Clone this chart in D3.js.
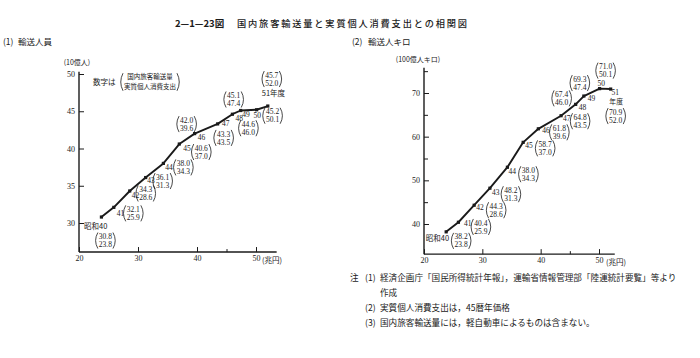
<!DOCTYPE html>
<html><head><meta charset="utf-8">
<script src="https://cdn.jsdelivr.net/npm/d3@7"></script>
<style>
body{margin:0;background:#fff;}
svg{display:block;}
text{fill:#1a1a1a;}
.jp{font-family:"Noto Sans CJK JP","Noto Sans CJK SC",sans-serif;}
.num{font-family:"Liberation Serif","DejaVu Serif",serif;}
</style></head><body>
<svg id="c" width="700" height="358"></svg>
<script>
// ---- data ----
const years = ["40","41","42","43","44","45","46","47","48","49","50","51"];
const consumption = [23.8,25.9,28.6,31.3,34.3,37.0,39.6,43.5,46.0,47.4,50.1,52.0];      // 兆円
const passengers = [30.8,32.1,34.3,36.1,38.0,40.6,42.0,43.3,44.6,45.1,45.2,45.7];       // 10億人
const passengerKm = [38.2,40.4,44.3,48.2,53.0,58.7,61.8,64.8,67.4,69.3,71.0,70.9];      // 100億人キロ
const passengerKmPrinted = ["38.2","40.4","44.3","48.2","38.0","58.7","61.8","64.8","67.4","69.3","71.0","70.9"];
const xTicks = [20,30,40,50];
const yTicksLeft = [30,35,40,45,50];
const yTicksRight = [40,50,60,70];
const yMinorRight = [45,55,65,75];
const notes = [
  "経済企画庁「国民所得統計年報」，運輸省情報管理部「陸運統計要覧」等より",
  "実質個人消費支出は，45暦年価格",
  "国内旅客輸送量には，軽自動車によるものは含まない。"
];

// ---- layout (label offsets relative to each point) ----
const leftOffsets = [
  {yx:6,yy:9,anchor:"end",bx:4,by:23.5},
  {yx:3,yy:6,bx:19.5,by:6},
  {yx:2,yy:4,bx:16,by:2.5},
  {yx:1.5,yy:2.5,bx:17,by:3.5},
  {yx:2,yy:4,bx:20,by:4},
  {yx:4,yy:4,bx:22,by:8},
  {yx:3,yy:3.5,bx:-8,by:-9.5},
  {yx:8,yy:-0.5,anchor:"middle",bx:6,by:14},
  {yx:3,yy:4,bx:16,by:14},
  {yx:1.5,yy:3,bx:-7,by:-11},
  {yx:-3,yy:5,bx:16,by:6},
  {yx:-6,yy:-13,bx:4,by:-27}
];
const rightOffsets = [
  {yx:3,yy:6,anchor:"end",bx:15,by:9},
  {yx:5.5,yy:1,bx:22.5,by:4.7},
  {yx:2,yy:2,bx:22,by:5},
  {yx:2,yy:4,bx:21,by:6},
  {yx:1,yy:4,bx:21,by:7},
  {yx:2,yy:3,bx:22,by:6},
  {yx:4,yy:1.5,bx:21,by:3.5},
  {yx:2,yy:2.5,bx:19,by:5.5},
  {yx:3,yy:3,bx:-14,by:-6},
  {yx:4,yy:2,bx:-4,by:-13},
  {yx:-2,yy:-6,bx:6,by:-18},
  {yx:4.5,yy:2.5,anchor:"middle",bx:5,by:27}
];

const svg = d3.select("#c");
const ink = "#1a1a1a";

svg.append("text").attr("class","jp").attr("x",175).attr("y",27)
  .attr("font-size",9.5).attr("font-weight",700)
  .text("2—1—23図");
svg.append("text").attr("class","jp").attr("x",237).attr("y",27)
  .attr("font-size",9.2).attr("font-weight",500)
  .attr("textLength",230).attr("lengthAdjust","spacing")
  .text("国内旅客輸送量と実質個人消費支出との相関図");
svg.append("text").attr("class","jp").attr("x",3).attr("y",45).attr("font-size",8.5).text("(1)");
svg.append("text").attr("class","jp").attr("x",18).attr("y",45).attr("font-size",8.5).text("輸送人員");
svg.append("text").attr("class","jp").attr("x",352).attr("y",45).attr("font-size",8.5).text("(2)");
svg.append("text").attr("class","jp").attr("x",368).attr("y",45).attr("font-size",8.5).text("輸送人キロ");

function pair(g, cx, cy, top, bottom, fs, font, gap) {
  const gp = gap || 8, f = fs || 7.5;
  const grp = g.append("g").attr("transform", `translate(${cx},${cy})`);
  const t1 = grp.append("text").attr("class", font || "num").attr("text-anchor","middle")
    .attr("y", -gp/2 + f*0.35).attr("font-size", f).text(top);
  const t2 = grp.append("text").attr("class", font || "num").attr("text-anchor","middle")
    .attr("y", gp/2 + f*0.35).attr("font-size", f).text(bottom);
  const w = Math.max(t1.node().getComputedTextLength(), t2.node().getComputedTextLength())/2 + 2;
  const h = gp/2 + 4;
  grp.append("path").attr("d", `M${-w+1},${-h} Q${-w-3.5},0 ${-w+1},${h}`).attr("fill","none").attr("stroke",ink).attr("stroke-width",0.8);
  grp.append("path").attr("d", `M${w-1},${-h} Q${w+3.5},0 ${w-1},${h}`).attr("fill","none").attr("stroke",ink).attr("stroke-width",0.8);
  return w;
}

function panel(cfg) {
  const g = svg.append("g");
  const x = d3.scaleLinear().domain([20,50]).range(cfg.xr);
  const y = d3.scaleLinear().domain(cfg.yd).range(cfg.yr);
  const x0 = x(20), yb = y(cfg.yMin);
  g.append("line").attr("x1",x0).attr("x2",x0).attr("y1",yb).attr("y2",y(cfg.yMax))
    .attr("stroke",ink).attr("stroke-width",1.4);
  g.append("line").attr("x1",x0).attr("x2",x(cfg.xMax)).attr("y1",yb).attr("y2",yb)
    .attr("stroke",ink).attr("stroke-width",1.4);
  const ya = g.append("g").attr("transform",`translate(${x0},0)`)
    .call(d3.axisLeft(y).tickValues(cfg.yTicks).tickSizeInner(-5).tickSizeOuter(0).tickPadding(4));
  ya.select(".domain").remove();
  ya.selectAll("text").attr("class","num").attr("font-size",8).attr("fill",ink);
  ya.selectAll("line").attr("stroke",ink);
  if (cfg.yMinor) {
    const ym = g.append("g").attr("transform",`translate(${x0},0)`)
      .call(d3.axisLeft(y).tickValues(cfg.yMinor).tickSizeInner(-4).tickSizeOuter(0).tickFormat(""));
    ym.select(".domain").remove(); ym.selectAll("line").attr("stroke",ink);
  }
  const xa = g.append("g").attr("transform",`translate(0,${yb})`)
    .call(d3.axisBottom(x).tickValues(xTicks).tickSizeInner(-5).tickSizeOuter(0).tickPadding(3));
  xa.select(".domain").remove();
  xa.selectAll("text").attr("class","num").attr("font-size",8).attr("fill",ink);
  xa.selectAll("line").attr("stroke",ink);
  const xm = g.append("g").attr("transform",`translate(0,${yb})`)
    .call(d3.axisBottom(x).tickValues([45]).tickSizeInner(-3).tickSizeOuter(0).tickFormat(""));
  xm.select(".domain").remove(); xm.selectAll("line").attr("stroke",ink);
  g.append("text").attr("class","jp").attr("x", x(50)+cfg.unitGap).attr("y", yb+11)
    .attr("font-size",7.5).text("(兆円)");
  g.append("text").attr("class","jp").attr("x",cfg.yUnitX).attr("y",cfg.yUnitY)
    .attr("text-anchor","middle").attr("font-size",7).text(cfg.yUnit);

  const pts = consumption.map((c,i)=>[x(c), y(cfg.values[i])]);
  g.append("path").attr("d", d3.line()(pts)).attr("fill","none")
    .attr("stroke",ink).attr("stroke-width",1.9).attr("stroke-linejoin","round");
  g.selectAll("rect.pt").data(pts).join("rect").attr("class","pt")
    .attr("x",d=>d[0]-1.6).attr("y",d=>d[1]-1.6).attr("width",3.2).attr("height",3.2).attr("fill",ink);

  pts.forEach((p,i)=>{
    const o = cfg.offsets[i];
    let ylab = years[i];
    if (i===0) ylab = "昭和" + years[i];
    if (i===11 && cfg.yearSuffixInline) ylab = years[i] + "年度";
    g.append("text").attr("x", p[0]+o.yx).attr("y", p[1]+o.yy+3)
      .attr("text-anchor", o.anchor || "start").attr("font-size",7.5)
      .attr("class", (i===0 || (i===11 && cfg.yearSuffixInline)) ? "jp" : "num").text(ylab);
    if (i===11 && !cfg.yearSuffixInline) {
      g.append("text").attr("class","jp").attr("x",p[0]+o.yx+1).attr("y",p[1]+o.yy+12)
        .attr("text-anchor","middle").attr("font-size",6.8).text("年度");
    }
    pair(g, p[0]+o.bx, p[1]+o.by, cfg.printed[i], consumption[i].toFixed(1));
  });
  return g;
}

const gl = panel({
  xr:[79,256], yd:[30,50], yr:[223,74], yMin:26.1, yMax:50.3, xMax:53.5,
  yTicks:yTicksLeft, values:passengers, printed:passengers.map(v=>v.toFixed(1)),
  offsets:leftOffsets, yUnit:"(10億人)", yUnitX:77, yUnitY:65, unitGap:6, yearSuffixInline:true
});
gl.append("text").attr("class","jp").attr("x",93).attr("y",85).attr("font-size",7.5).text("数字は");
pair(gl, 150, 82, "国内旅客輸送量", "実質個人消費支出", 6.5, "jp", 9.6);

panel({
  xr:[424,599], yd:[40,70], yr:[224,93], yMin:33.1, yMax:75.8, xMax:52.7,
  yTicks:yTicksRight, yMinor:yMinorRight, values:passengerKm, printed:passengerKmPrinted,
  offsets:rightOffsets, yUnit:"(100億人キロ)", yUnitX:418, yUnitY:62, unitGap:7, yearSuffixInline:false
});

const nf = 8.6;
svg.append("text").attr("class","jp").attr("x",350).attr("y",281).attr("font-size",nf).text("注");
svg.append("text").attr("class","jp").attr("x",365).attr("y",281).attr("font-size",nf).text("(1)");
svg.append("text").attr("class","jp").attr("x",380).attr("y",281).attr("font-size",nf).text(notes[0]);
svg.append("text").attr("class","jp").attr("x",380).attr("y",296).attr("font-size",nf).text("作成");
svg.append("text").attr("class","jp").attr("x",365).attr("y",311).attr("font-size",nf).text("(2)");
svg.append("text").attr("class","jp").attr("x",380).attr("y",311).attr("font-size",nf).text(notes[1]);
svg.append("text").attr("class","jp").attr("x",365).attr("y",326).attr("font-size",nf).text("(3)");
svg.append("text").attr("class","jp").attr("x",380).attr("y",326).attr("font-size",nf).text(notes[2]);
</script>
</body></html>
